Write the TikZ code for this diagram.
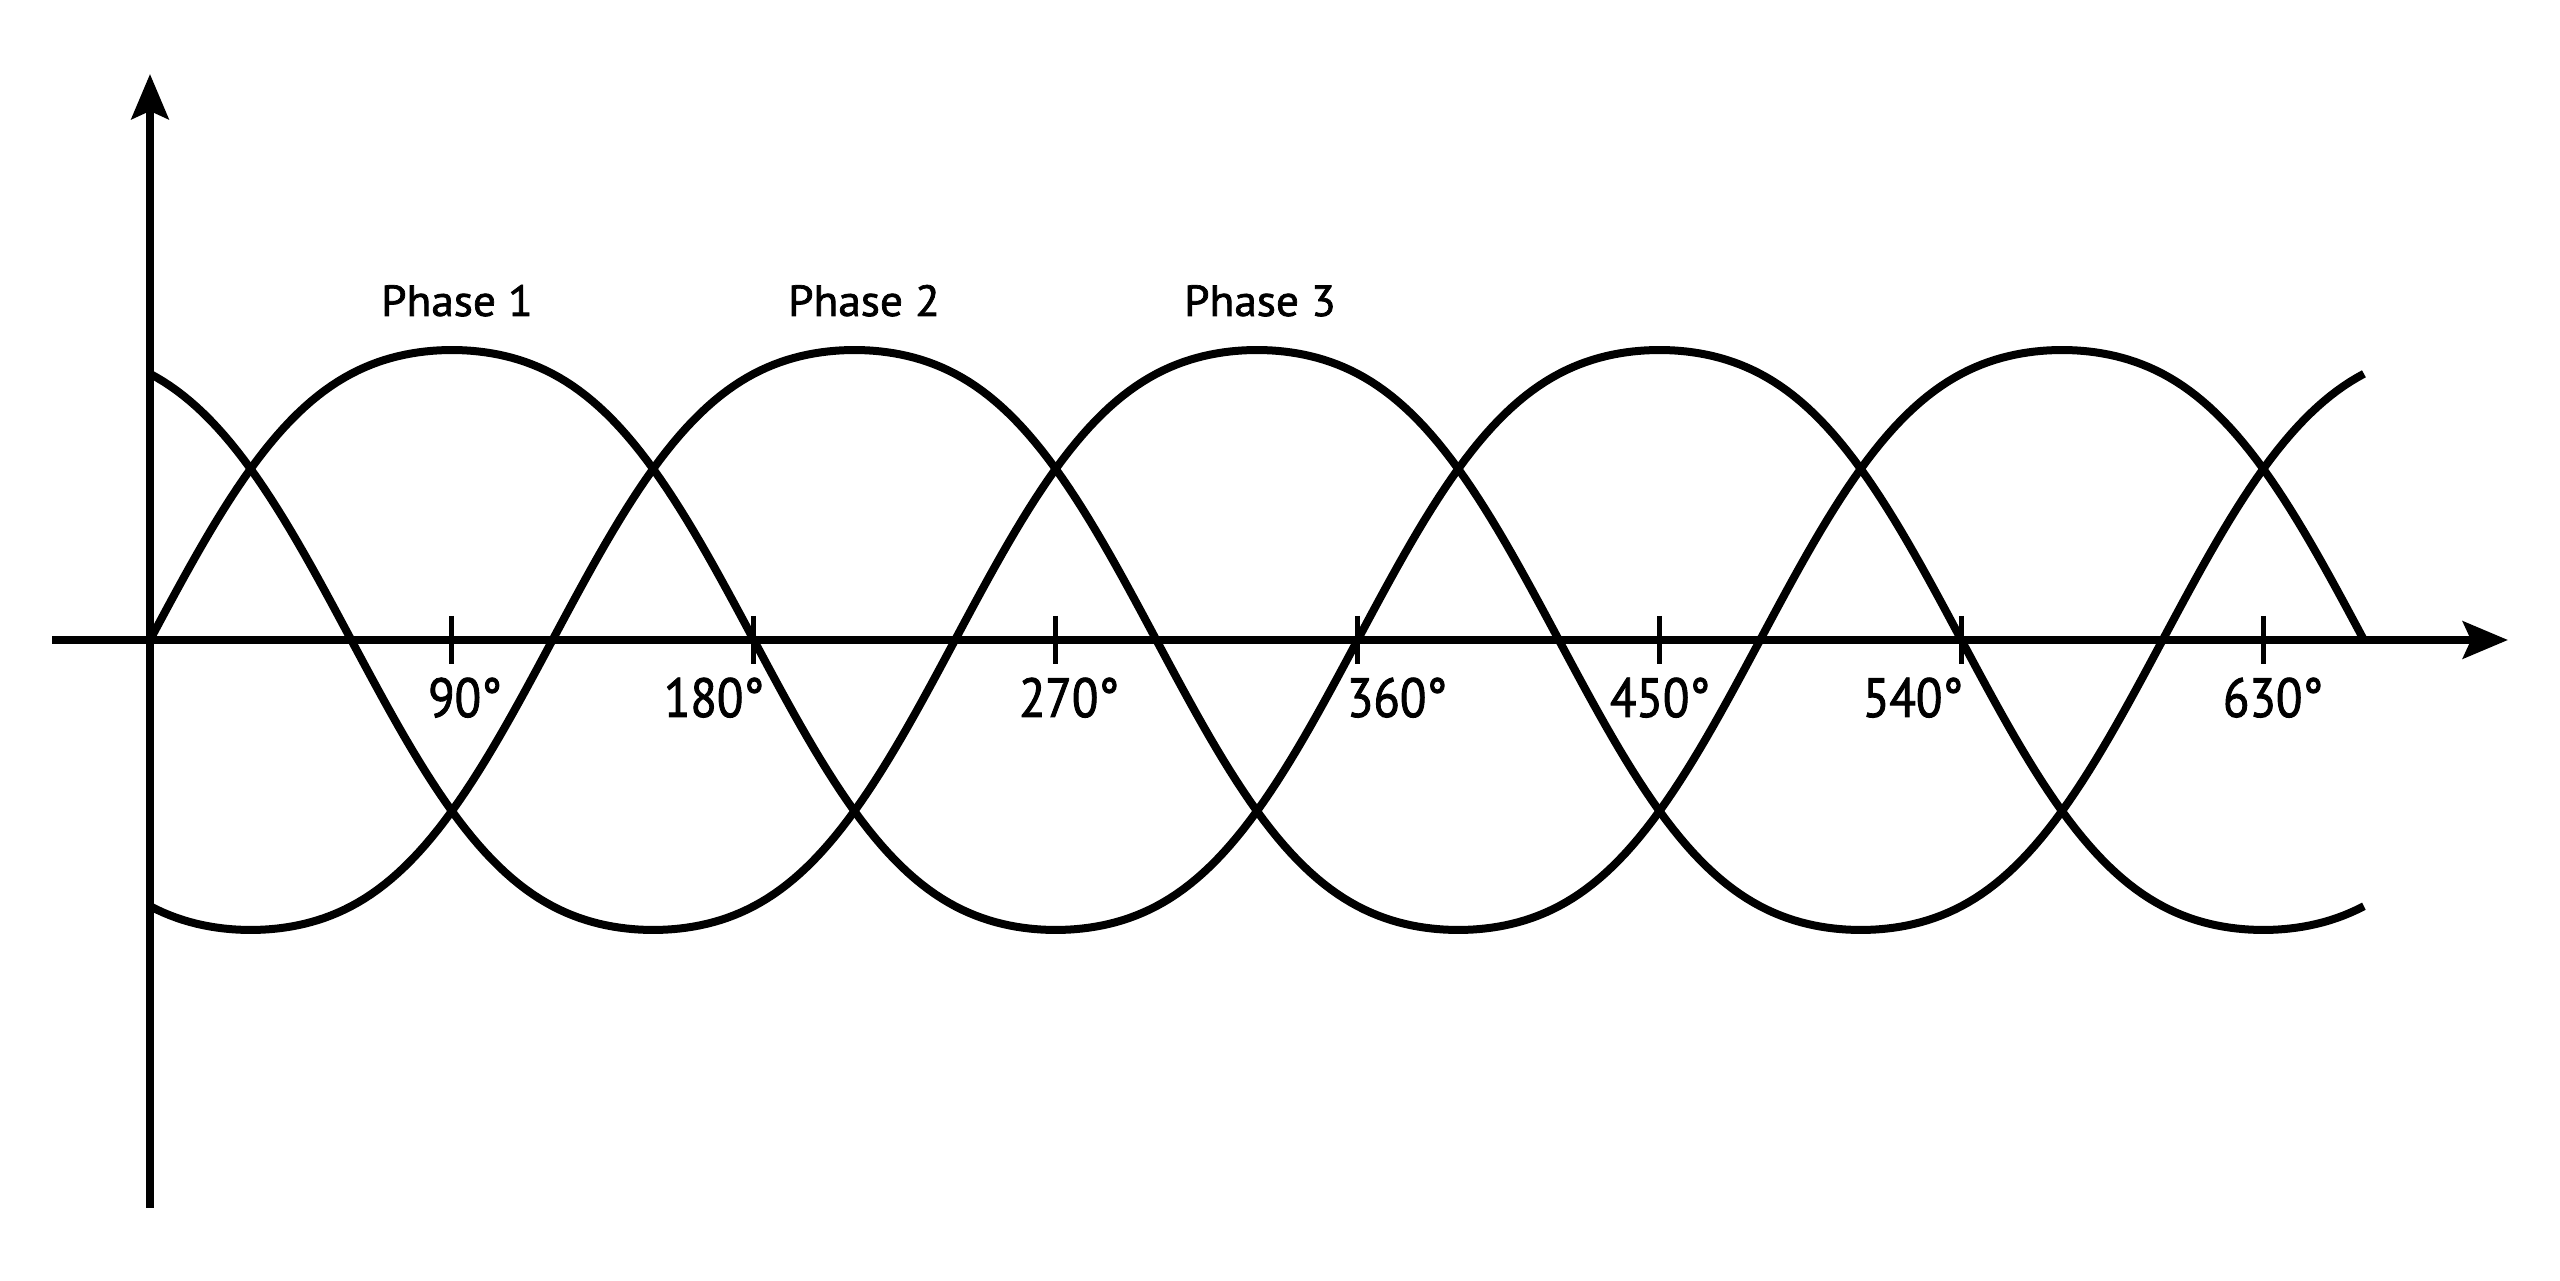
\documentclass[tikz,border=0pt]{standalone}
\usepackage{fontspec}
\setmainfont{PT Sans}
\newfontfamily\phasefont{PT Sans}[FakeBold=1.6, FakeStretch=1.04]
\newfontfamily\degfont{PT Sans}[FakeBold=1.6, FakeStretch=0.88]
\usetikzlibrary{arrows.meta}
\tikzset{
  wave/.style={line width=2pt, line cap=butt, line join=round},
  axisline/.style={line width=2pt, -{Stealth[length=11.25pt,width=9.25pt,inset=2pt]}},
  tickline/.style={line width=1.25pt},
  phaselabel/.style={anchor=base, inner sep=0pt, font=\phasefont\fontsize{10.9pt}{12pt}\selectfont},
  deglabel/.style={anchor=base, inner sep=0pt, font=\degfont\fontsize{13.8pt}{15pt}\selectfont},
  declare function={wf(\t)=(sin(\t)+0.0566*sin(3*\t))/0.9434;}
}
\begin{document}
\begin{tikzpicture}[x=0.25pt,y=-0.25pt]
\useasboundingbox (0,0) rectangle (2560,1281);
\fill[white] (0,0) rectangle (2560,1281);
% axes
\coordinate (xl) at (52,640);
\coordinate (xr) at (2508,640);
\coordinate (yb) at (150,1208);
\coordinate (yt) at (150,74);
\draw[axisline] (xl) -- (xr);
\draw[axisline] (yb) -- (yt);
% ticks
\foreach \k in {1,...,7}{
  \coordinate (t\k a) at ({150+301.9*\k},616);
  \coordinate (t\k b) at ({150+301.9*\k},664);
  \draw[tickline] (t\k a) -- (t\k b);
}
% waves
\draw[wave] plot[domain=0:660, samples=331, variable=\t] ({150+3.3544*\t},{640-290*wf(\t)});
\draw[wave] plot[domain=0:660, samples=331, variable=\t] ({150+3.3544*\t},{640-290*wf(\t-120)});
\draw[wave] plot[domain=0:660, samples=331, variable=\t] ({150+3.3544*\t},{640-290*wf(\t+120)});
% phase labels
\node[phaselabel] (p1) at (457,316) {Phase 1};
\node[phaselabel] (p2) at (864,316) {Phase 2};
\node[phaselabel] (p3) at (1260,316) {Phase 3};
% degree labels
\node[deglabel] (d90)  at (465,717) {90°};
\node[deglabel] (d180) at (714,717) {180°};
\node[deglabel] (d270) at (1069,717) {270°};
\node[deglabel] (d360) at (1397,717) {360°};
\node[deglabel] (d450) at (1660,717) {450°};
\node[deglabel] (d540) at (1913,717) {540°};
\node[deglabel] (d630) at (2273,717) {630°};
\end{tikzpicture}
\end{document}
